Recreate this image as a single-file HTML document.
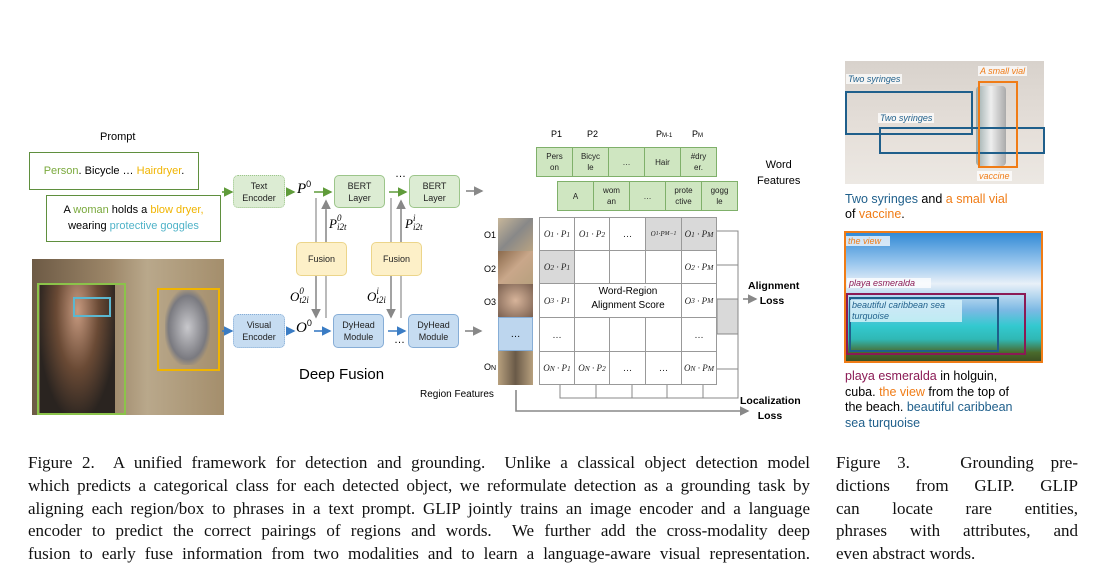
<!DOCTYPE html>
<html><head><meta charset="utf-8"><style>
body{margin:0;width:1106px;height:576px;background:#fff;position:relative;overflow:hidden;font-family:"Liberation Sans",sans-serif}
.a{position:absolute}
.box{position:absolute;display:flex;align-items:center;justify-content:center;text-align:center;font-size:9px;line-height:12px;box-sizing:border-box;color:#222}
.g{background:#dcecd3;border:1.5px solid #9cc58a;border-radius:5px}
.b{background:#c6dcf1;border:1.5px solid #86add6;border-radius:5px}
.y{background:#fdf0c8;border:1.5px solid #ecd58a;border-radius:5px}
.cap{position:absolute;font-family:"Liberation Serif",serif;font-size:17px;color:#111}
.cap div{height:22.8px;line-height:22.8px;text-align:justify;text-align-last:justify;white-space:nowrap}
.cap div.l{text-align-last:left}
.wc{position:absolute;box-sizing:border-box;border:1px solid #7fb06a;background:#cfe6c1;font-size:8px;line-height:11px;display:flex;align-items:center;justify-content:center;text-align:center;color:#222}
.m{position:absolute;box-sizing:border-box;border:1px solid #999;background:#fff;font-family:"Liberation Serif",serif;font-style:italic;font-size:9px;display:flex;align-items:center;justify-content:center;color:#222}
.m.s{background:#d9d9d9}
i.t{font-family:"Liberation Serif",serif}
.lbl{position:absolute;background:rgba(255,255,255,.75);font-style:italic;font-size:9px;padding:0 2px}
</style></head><body>

<div class="a" style="left:100px;top:131px;font-size:11px">Prompt</div>
<div class="a" style="left:29px;top:152px;width:170px;height:38px;box-sizing:border-box;border:1.5px solid #5f8f3e;font-size:11px;line-height:36px;text-align:center"><span style="color:#7aa93c">Person</span>. Bicycle … <span style="color:#f0b400">Hairdryer</span>.</div>
<div class="a" style="left:46px;top:195px;width:175px;height:47px;box-sizing:border-box;border:1.5px solid #5f8f3e;font-size:11px;line-height:16px;text-align:center;padding-top:6px">A <span style="color:#7aa93c">woman</span> holds a <span style="color:#f0b400">blow dryer,</span><br>wearing <span style="color:#4fb3c8">protective goggles</span></div>

<div class="a" style="left:32px;top:259px;width:192px;height:156px;background:linear-gradient(90deg,#6d5a45 0%,#9c8668 40%,#b9a88b 60%,#a48e6c 100%)"></div>
<div class="a" style="left:40px;top:285px;width:75px;height:130px;background:radial-gradient(ellipse at 50% 20%,#c79a80 0%,#6a4a35 40%,#2a2420 75%)"></div>
<div class="a" style="left:165px;top:290px;width:45px;height:75px;background:radial-gradient(ellipse,#c8c8cc 0%,#7a7a80 60%,transparent 75%)"></div>
<div class="a" style="left:37px;top:283px;width:89px;height:132px;box-sizing:border-box;border:2px solid #8bc34a"></div>
<div class="a" style="left:73px;top:297px;width:38px;height:20px;box-sizing:border-box;border:2px solid #5bb7d0"></div>
<div class="a" style="left:157px;top:288px;width:63px;height:83px;box-sizing:border-box;border:2.5px solid #f0b400"></div>

<div class="box g" style="left:233px;top:175px;width:52px;height:33px;border-style:dotted">Text<br>Encoder</div>
<div class="box b" style="left:233px;top:314px;width:52px;height:34px;border-style:dotted">Visual<br>Encoder</div>
<div class="box g" style="left:334px;top:175px;width:51px;height:33px">BERT<br>Layer</div>
<div class="box g" style="left:409px;top:175px;width:51px;height:33px">BERT<br>Layer</div>
<div class="box y" style="left:296px;top:242px;width:51px;height:34px">Fusion</div>
<div class="box y" style="left:371px;top:242px;width:51px;height:34px">Fusion</div>
<div class="box b" style="left:333px;top:314px;width:51px;height:34px">DyHead<br>Module</div>
<div class="box b" style="left:408px;top:314px;width:51px;height:34px">DyHead<br>Module</div>

<svg class="a" style="left:0;top:0" width="1106" height="576">
<defs>
<marker id="ag" markerWidth="6" markerHeight="6" refX="5" refY="3" orient="auto"><path d="M0,0L6,3L0,6z" fill="#5f9b3a"/></marker>
<marker id="ab" markerWidth="6" markerHeight="6" refX="5" refY="3" orient="auto"><path d="M0,0L6,3L0,6z" fill="#3a7cc4"/></marker>
<marker id="ay" markerWidth="6" markerHeight="6" refX="5" refY="3" orient="auto"><path d="M0,0L6,3L0,6z" fill="#888"/></marker>
</defs>
<g stroke-width="1.6" fill="none">
<path d="M222,192H232" stroke="#5f9b3a" marker-end="url(#ag)"/>
<path d="M286,192H294" stroke="#5f9b3a" marker-end="url(#ag)"/>
<path d="M314,192H331" stroke="#5f9b3a" marker-end="url(#ag)"/>
<path d="M389,192H406" stroke="#5f9b3a" marker-end="url(#ag)"/>
<path d="M222,331H232" stroke="#3a7cc4" marker-end="url(#ab)"/>
<path d="M286,331H294" stroke="#3a7cc4" marker-end="url(#ab)"/>
<path d="M314,331H330" stroke="#3a7cc4" marker-end="url(#ab)"/>
<path d="M388,331H405" stroke="#3a7cc4" marker-end="url(#ab)"/>
<path d="M466,191H482" stroke="#888" marker-end="url(#ay)"/>
<path d="M465,331H481" stroke="#888" marker-end="url(#ay)"/>
<path d="M316,242V198M326,242V210M316,276V317M326,276V318" stroke="#aaa"/>
<path d="M326,242V201" stroke="#999" marker-end="url(#ay)"/>
<path d="M316,276V317" stroke="#999" marker-end="url(#ay)"/>
<path d="M391,242V198M401,242V201M391,276V317M401,276V318" stroke="#aaa"/>
<path d="M401,242V201" stroke="#999" marker-end="url(#ay)"/>
<path d="M391,276V317" stroke="#999" marker-end="url(#ay)"/>
<path d="M717,231H738V369H717M717,265H738M717,299H738M717,334H738" stroke="#888" stroke-width="1"/>
<path d="M560,385V398H738V369M596,385V398M632,385V398M667,385V398M703,385V398" stroke="#888" stroke-width="1"/>
<path d="M516,390V411H748" stroke="#888" marker-end="url(#ay)"/>
<path d="M743,299H756" stroke="#888" marker-end="url(#ay)"/>
</g>
<rect x="717" y="299" width="21" height="35" fill="#d9d9d9" stroke="#888"/>
</svg>
<div class="a" style="left:395px;top:168px;font-size:11px">…</div>
<div class="a" style="left:394px;top:334px;font-size:11px">…</div>
<div class="a" style="left:297px;top:179px;font-size:15px"><i class="t">P</i><sup style="font-size:9px">0</sup></div>
<div class="a" style="left:296px;top:318px;font-size:15px"><i class="t">O</i><sup style="font-size:9px">0</sup></div>
<div class="a" style="left:329px;top:214px;font-size:13px"><i class="t">P</i><span style="display:inline-block;font-size:9px;line-height:9px;vertical-align:-2px;font-family:'Liberation Serif';font-style:italic">0<br>i2t</span></div>
<div class="a" style="left:405px;top:214px;font-size:13px"><i class="t">P</i><span style="display:inline-block;font-size:9px;line-height:9px;vertical-align:-2px;font-family:'Liberation Serif';font-style:italic">i<br>i2t</span></div>
<div class="a" style="left:290px;top:287px;font-size:13px"><i class="t">O</i><span style="display:inline-block;font-size:9px;line-height:9px;vertical-align:-2px;font-family:'Liberation Serif';font-style:italic">0<br>t2i</span></div>
<div class="a" style="left:367px;top:287px;font-size:13px"><i class="t">O</i><span style="display:inline-block;font-size:9px;line-height:9px;vertical-align:-2px;font-family:'Liberation Serif';font-style:italic">i<br>t2i</span></div>
<div class="a" style="left:299px;top:366px;font-size:15px">Deep Fusion</div>

<div class="a" style="left:498px;top:218px;width:35px;height:33px;background:linear-gradient(135deg,#c8b79a,#888 50%,#b9a382)"></div>
<div class="a" style="left:498px;top:251px;width:35px;height:33px;background:linear-gradient(135deg,#8a6a4c,#c9a78a 50%,#b7a07e)"></div>
<div class="a" style="left:498px;top:284px;width:35px;height:33px;background:radial-gradient(#d7b49a,#7a6050)"></div>
<div class="a" style="left:498px;top:317px;width:35px;height:34px;background:#bdd6ee;border:1px solid #86add6;box-sizing:border-box;display:flex;align-items:center;justify-content:center;font-size:10px">…</div>
<div class="a" style="left:498px;top:351px;width:35px;height:34px;background:linear-gradient(90deg,#b7a07e,#6a5a48 50%,#b7a07e)"></div>
<div class="a" style="left:484px;top:230px;font-size:9px">O1</div>
<div class="a" style="left:484px;top:264px;font-size:9px">O2</div>
<div class="a" style="left:484px;top:297px;font-size:9px">O3</div>
<div class="a" style="left:484px;top:362px;font-size:9px">O<span style="font-size:7px">N</span></div>
<div class="a" style="left:420px;top:389px;font-size:10px">Region Features</div>

<div class="a" style="left:551px;top:129px;font-size:9px">P1</div>
<div class="a" style="left:587px;top:129px;font-size:9px">P2</div>
<div class="a" style="left:656px;top:129px;font-size:9px">P<span style="font-size:6px">M-1</span></div>
<div class="a" style="left:692px;top:129px;font-size:9px">P<span style="font-size:6px">M</span></div>
<div class="wc" style="left:536px;top:147px;width:37px;height:30px">Pers<br>on</div>
<div class="wc" style="left:572px;top:147px;width:37px;height:30px">Bicyc<br>le</div>
<div class="wc" style="left:608px;top:147px;width:37px;height:30px">…</div>
<div class="wc" style="left:644px;top:147px;width:37px;height:30px">Hair</div>
<div class="wc" style="left:680px;top:147px;width:37px;height:30px">#dry<br>er.</div>
<div class="wc" style="left:557px;top:181px;width:37px;height:30px">A</div>
<div class="wc" style="left:593px;top:181px;width:37px;height:30px">wom<br>an</div>
<div class="wc" style="left:629px;top:181px;width:37px;height:30px">…</div>
<div class="wc" style="left:665px;top:181px;width:37px;height:30px">prote<br>ctive</div>
<div class="wc" style="left:701px;top:181px;width:37px;height:30px">gogg<br>le</div>
<div class="a" style="left:757px;top:157px;font-size:11px;line-height:16px;text-align:center">Word<br>Features</div>

<div class="a" style="left:539px;top:217px;width:178px;height:168px;border:1px solid #999;box-sizing:border-box"></div>
<div class="m" style="left:539px;top:217px;width:36px;height:34px">O<sub>1</sub>&nbsp;· P<sub>1</sub></div>
<div class="m" style="left:574px;top:217px;width:36px;height:34px">O<sub>1</sub>&nbsp;· P<sub>2</sub></div>
<div class="m" style="left:609px;top:217px;width:37px;height:34px;font-style:normal">…</div>
<div class="m s" style="left:645px;top:217px;width:37px;height:34px;font-size:7px">O<sub>1</sub>·P<sub>M−1</sub></div>
<div class="m s" style="left:681px;top:217px;width:36px;height:34px">O<sub>1</sub>&nbsp;· P<sub>M</sub></div>
<div class="m s" style="left:539px;top:250px;width:36px;height:34px">O<sub>2</sub>&nbsp;· P<sub>1</sub></div>
<div class="m" style="left:681px;top:250px;width:36px;height:34px">O<sub>2</sub>&nbsp;· P<sub>M</sub></div>
<div class="m" style="left:539px;top:283px;width:36px;height:35px">O<sub>3</sub>&nbsp;· P<sub>1</sub></div>
<div class="m" style="left:681px;top:283px;width:36px;height:35px">O<sub>3</sub>&nbsp;· P<sub>M</sub></div>
<div class="m" style="left:539px;top:317px;width:36px;height:35px;font-style:normal">…</div>
<div class="m" style="left:681px;top:317px;width:36px;height:35px;font-style:normal">…</div>
<div class="m" style="left:574px;top:250px;width:36px;height:34px"></div>
<div class="m" style="left:609px;top:250px;width:37px;height:34px"></div>
<div class="m" style="left:645px;top:250px;width:37px;height:34px"></div>
<div class="m" style="left:574px;top:317px;width:36px;height:35px"></div>
<div class="m" style="left:609px;top:317px;width:37px;height:35px"></div>
<div class="m" style="left:645px;top:317px;width:37px;height:35px"></div>
<div class="m" style="left:539px;top:351px;width:36px;height:34px">O<sub>N</sub>&nbsp;· P<sub>1</sub></div>
<div class="m" style="left:574px;top:351px;width:36px;height:34px">O<sub>N</sub>&nbsp;· P<sub>2</sub></div>
<div class="m" style="left:609px;top:351px;width:37px;height:34px;font-style:normal">…</div>
<div class="m" style="left:645px;top:351px;width:37px;height:34px;font-style:normal">…</div>
<div class="m" style="left:681px;top:351px;width:36px;height:34px">O<sub>N</sub>&nbsp;· P<sub>M</sub></div>
<div class="a" style="left:578px;top:285px;width:100px;height:32px;background:#fff;font-size:10px;line-height:14px;text-align:center">Word-Region<br>Alignment Score</div>
<div class="a" style="left:748px;top:279px;font-size:10.5px;font-weight:bold;line-height:15px;text-align:center;width:48px">Alignment<br>Loss</div>
<div class="a" style="left:740px;top:394px;font-size:10.5px;font-weight:bold;line-height:15px;text-align:center;width:60px">Localization<br>Loss</div>

<div class="a" style="left:845px;top:61px;width:199px;height:123px;background:linear-gradient(180deg,#d8d2cc,#e6e0da 60%,#ece8e3)"></div>
<div class="a" style="left:976px;top:86px;width:30px;height:80px;background:linear-gradient(90deg,#9aa,#eee 50%,#aaa);border-radius:4px"></div>
<div class="a" style="left:845px;top:91px;width:128px;height:44px;box-sizing:border-box;border:2.5px solid #1f5f8b"></div>
<div class="a" style="left:879px;top:127px;width:166px;height:27px;box-sizing:border-box;border:2.5px solid #1f5f8b"></div>
<div class="a" style="left:978px;top:81px;width:40px;height:87px;box-sizing:border-box;border:2.5px solid #f07c16"></div>
<div class="lbl" style="left:846px;top:74px;color:#1f5f8b">Two syringes</div>
<div class="lbl" style="left:878px;top:113px;color:#1f5f8b">Two syringes</div>
<div class="lbl" style="left:978px;top:66px;color:#f07c16">A small vial</div>
<div class="lbl" style="left:977px;top:171px;color:#f07c16">vaccine</div>
<div class="a" style="left:845px;top:192px;font-size:12.5px;line-height:15px"><span style="color:#1f5f8b">Two syringes</span> and <span style="color:#f07c16">a small vial</span><br>of <span style="color:#f07c16">vaccine</span>.</div>

<div class="a" style="left:844px;top:231px;width:199px;height:132px;background:linear-gradient(180deg,#2b86d4 0%,#9cc8ee 25%,#e8f0f8 40%,#7cb9e4 60%,#33c9cf 72%,#30b8b5 82%,#4a6a2c 92%,#3a4a20 100%)"></div>
<div class="a" style="left:844px;top:231px;width:199px;height:132px;box-sizing:border-box;border:2.5px solid #f07c16"></div>
<div class="a" style="left:846px;top:293px;width:180px;height:62px;box-sizing:border-box;border:2.5px solid #8b1a55"></div>
<div class="a" style="left:849px;top:297px;width:150px;height:55px;box-sizing:border-box;border:2.5px solid #1f5f8b"></div>
<div class="lbl" style="left:846px;top:236px;color:#f07c16;width:40px">the view</div>
<div class="lbl" style="left:847px;top:278px;color:#8b1a55;width:80px">playa esmeralda</div>
<div class="lbl" style="left:850px;top:300px;color:#1f5f8b;width:108px;line-height:11px;background:rgba(220,245,250,.8)">beautiful caribbean sea turquoise</div>
<div class="a" style="left:845px;top:369px;font-size:12.5px;line-height:15.5px"><span style="color:#8b1a55">playa esmeralda</span> in holguin,<br>cuba. <span style="color:#f07c16">the view</span> from the top of<br>the beach. <span style="color:#1f5f8b">beautiful caribbean</span><br><span style="color:#1f5f8b">sea turquoise</span></div>

<div class="cap" style="left:28px;top:452px;width:782px">
<div>Figure 2.&nbsp; A unified framework for detection and grounding.&nbsp; Unlike a classical object detection model</div>
<div>which predicts a categorical class for each detected object, we reformulate detection as a grounding task by</div>
<div>aligning each region/box to phrases in a text prompt. GLIP jointly trains an image encoder and a language</div>
<div>encoder to predict the correct pairings of regions and words.&nbsp; We further add the cross-modality deep</div>
<div>fusion to early fuse information from two modalities and to learn a language-aware visual representation.</div>
</div>
<div class="cap" style="left:836px;top:452px;width:242px">
<div>Figure 3.&nbsp;&nbsp; Grounding pre-</div>
<div>dictions from GLIP. GLIP</div>
<div>can locate rare entities,</div>
<div>phrases with attributes, and</div>
<div class="l">even abstract words.</div>
</div>
</body></html>
